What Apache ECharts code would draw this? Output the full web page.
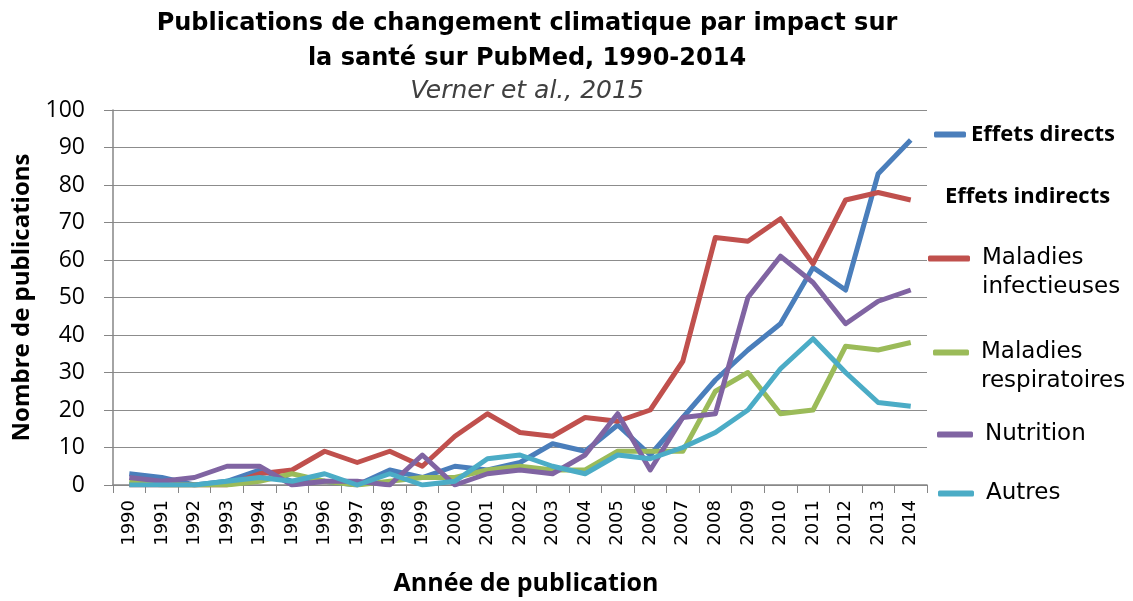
<!DOCTYPE html>
<html>
<head>
<meta charset="utf-8">
<title>Publications PubMed</title>
<script src="https://cdn.jsdelivr.net/npm/echarts@6/dist/echarts.min.js"></script>
<style>
    html, body {margin: 0; padding: 0; background: #fff;}
    #display-chart {width: 1133px; height: 601px;}
</style>
</head>
<body>
<div id="display-chart"></div>
<script>
//années (catégories)
var years = ['1990', '1991', '1992', '1993', '1994', '1995', '1996', '1997', '1998', '1999',
    '2000', '2001', '2002', '2003', '2004', '2005', '2006', '2007', '2008', '2009',
    '2010', '2011', '2012', '2013', '2014'];

//valeurs
var effetsDirects = [3, 2, 0, 1, 4, 1, 1, 0, 4, 2, 5, 4, 6, 11, 9, 16, 8, 18, 28, 36, 43, 58, 52, 83, 92];
var maladiesInfectieuses = [0, 0, 0, 0, 3, 4, 9, 6, 9, 5, 13, 19, 14, 13, 18, 17, 20, 33, 66, 65, 71, 59, 76, 78, 76];
var maladiesRespiratoires = [1, 0, 0, 0, 1, 3, 1, 0, 1, 2, 2, 4, 5, 4, 4, 9, 9, 9, 25, 30, 19, 20, 37, 36, 38];
var nutrition = [2, 1, 2, 5, 5, 0, 1, 1, 0, 8, 0, 3, 4, 3, 8, 19, 4, 18, 19, 50, 61, 54, 43, 49, 52];
var autres = [0, 0, 0, 1, 2, 1, 3, 0, 3, 0, 1, 7, 8, 5, 3, 8, 7, 10, 14, 20, 31, 39, 30, 22, 21];

var seriesNames = ['Effets directs', 'Maladies infectieuses', 'Maladies respiratoires', 'Nutrition', 'Autres'];
var seriesData = [effetsDirects, maladiesInfectieuses, maladiesRespiratoires, nutrition, autres];
var seriesColors = ['#4a7ebb', '#c0504d', '#9bbb59', '#8064a2', '#4bacc6'];

var legendFont = 'DejaVu Sans';

//une légende par élément pour placer chacun librement
function makeLegend(name, left, top, width, twoLines, bold) {
    return {
        data: [name],
        left: left,
        top: top,
        icon: 'roundRect',
        itemWidth: width,
        itemHeight: 6,
        selectedMode: false,
        formatter: function (n) {
            //ligne vide en tête : le trait reste centré sur la 1re ligne de texte
            return twoLines ? '\u00a0\n' + n.replace(' ', '\n') : n;
        },
        textStyle: {
            fontFamily: bold ? 'Open Sans' : legendFont,
            fontWeight: bold ? 'bold' : 'normal',
            fontSize: bold ? 22 : 23,
            lineHeight: 29,
            color: '#000',
            padding: [0, 0, 0, bold ? 0 : 7]
        }
    };
}

function generateChart() {
    var myChart = echarts.init(document.getElementById('display-chart'));

    var series = [];
    for (var i = 0; i < seriesNames.length; i++) {
        series.push({
            name: seriesNames[i],
            type: 'line',
            data: seriesData[i],
            showSymbol: false,
            symbol: 'none',
            lineStyle: {width: 5, color: seriesColors[i], join: 'round'},
            itemStyle: {color: seriesColors[i]}
        });
    }

    myChart.setOption({
        animation: false,
        title: [{
            text: 'Publications de changement climatique par impact sur\nla santé sur PubMed, 1990-2014',
            left: 522,
            top: 1,
            textAlign: 'center',
            textStyle: {
                fontFamily: 'DejaVu Sans',
                fontWeight: 'bold',
                fontSize: 24,
                lineHeight: 35,
                color: '#000'
            }
        }, {
            text: 'Verner et al., 2015',
            left: 522,
            top: 74,
            textAlign: 'center',
            textStyle: {
                fontFamily: 'DejaVu Sans',
                fontStyle: 'italic',
                fontWeight: 'normal',
                fontSize: 25,
                color: '#404040'
            }
        }],
        graphic: [{ //titre du groupe "Effets indirects"
            type: 'text',
            left: 945,
            top: 186,
            style: {
                text: 'Effets indirects',
                font: 'bold 22px "Open Sans"',
                fill: '#000'
            }
        }],
        legend: [
            makeLegend('Effets directs', 929, 115, 32, false, true),
            makeLegend('Maladies infectieuses', 923, 210, 42, true, false),
            makeLegend('Maladies respiratoires', 928, 304, 36, true, false),
            makeLegend('Nutrition', 932, 415, 36, false, false),
            makeLegend('Autres', 933, 474, 36, false, false)
        ],
        grid: {
            left: 113,
            right: 206,
            top: 110,
            bottom: 115
        },
        xAxis: {
            type: 'category',
            data: years,
            boundaryGap: true,
            name: 'Année de publication',
            nameLocation: 'middle',
            nameGap: 86,
            nameTextStyle: {
                fontFamily: 'Open Sans',
                fontWeight: 'bold',
                fontSize: 25,
                color: '#000',
                padding: [0, 0, 0, 12]
            },
            axisLine: {lineStyle: {color: '#868686', width: 1.5}},
            axisTick: {show: true, interval: 0, length: 8, lineStyle: {color: '#868686'}},
            axisLabel: {
                interval: 0,
                rotate: 90,
                margin: 15,
                fontFamily: legendFont,
                fontSize: 18,
                color: '#000'
            },
            splitLine: {show: false}
        },
        yAxis: {
            type: 'value',
            min: 0,
            max: 100,
            interval: 10,
            name: 'Nombre de publications',
            nameLocation: 'middle',
            nameGap: 73,
            nameTextStyle: {
                fontFamily: 'Open Sans',
                fontWeight: 'bold',
                fontSize: 24,
                color: '#000'
            },
            axisLine: {show: true, lineStyle: {color: '#868686', width: 1.5}},
            axisTick: {show: true, length: 9, lineStyle: {color: '#868686'}},
            axisLabel: {
                margin: 28,
                fontFamily: 'Open Sans',
                fontSize: 23,
                color: '#000'
            },
            splitLine: {lineStyle: {color: '#8c8c8c', width: 1.2}}
        },
        series: series
    });
}

generateChart();
</script>
</body>
</html>
